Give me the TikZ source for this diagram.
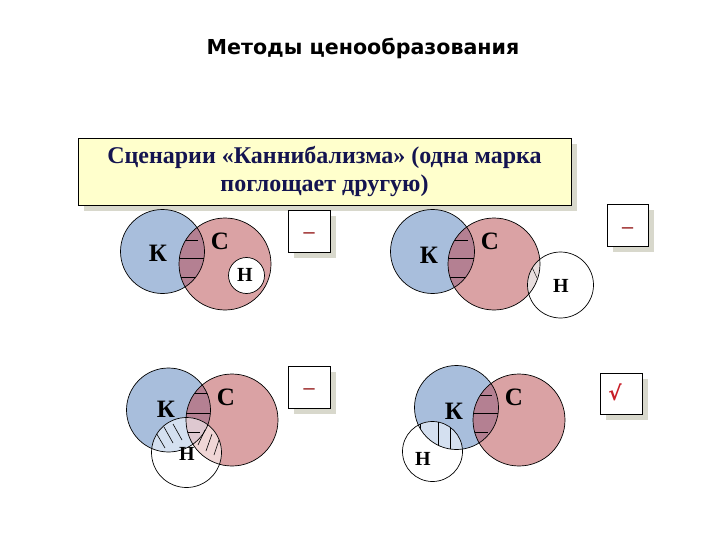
\documentclass[tikz,border=0pt]{standalone}
\usepackage{fontspec}
\setmainfont{Liberation Serif}
\newfontfamily\titlefont{DejaVu Sans}
\newfontfamily\symfont{DejaVu Sans}
\definecolor{kblue}{RGB}{168,190,220}
\definecolor{cpink}{RGB}{218,162,164}
\definecolor{kc}{RGB}{180,128,146}
\definecolor{hk}{RGB}{212,224,240}
\definecolor{hc}{RGB}{240,214,214}
\definecolor{hkc}{RGB}{222,200,208}
\definecolor{hlight}{RGB}{232,222,222}
\definecolor{navy}{RGB}{20,20,80}
\definecolor{boxyellow}{RGB}{255,255,204}
\definecolor{shadowc}{RGB}{216,216,204}
\definecolor{markred}{RGB}{200,30,40}
\definecolor{dashred}{RGB}{160,50,50}
\begin{document}
\begin{tikzpicture}[x=1pt,y=-1pt,line width=0.7pt,
  lbl/.style={font=\bfseries\fontsize{25}{27}\selectfont},
  hlbl/.style={font=\bfseries\fontsize{20}{22}\selectfont},
  hatch/.style={line width=0.6pt},
  dashtxt/.style={text=dashred,font=\bfseries\fontsize{22}{22}\selectfont},
  markbox/.style={draw,fill=white,line width=0.6pt,minimum width=42pt,minimum height=42pt,inner sep=0pt}]
\useasboundingbox (0,0) rectangle (720,540);
\fill[white] (0,0) rectangle (720,540);

% title
\node[font=\titlefont\bfseries\fontsize{20.6}{24}\selectfont] (title) at (363,48) {Методы ценообразования};

% heading box
\fill[shadowc] (84,144) rectangle (577,211);
\node[draw,fill=boxyellow,line width=0.8pt,minimum width=493pt,minimum height=67pt,inner sep=0pt,
  align=center,text=navy,font=\bfseries\fontsize{24}{28}\selectfont] (head) at (324.5,172)
  {Сценарии «Каннибализма» (одна марка\\поглощает другую)};

% ===== Panel 1 =====
\fill[kblue] (162.5,251.5) circle (42pt);
\fill[cpink] (225,264) circle (46pt);
\begin{scope}
  \clip (162.5,251.5) circle (42pt);
  \clip (225,264) circle (46pt);
  \fill[kc] (150,200) rectangle (260,320);
  \draw[hatch] (175,240) -- (198,240);
  \draw[hatch] (175,258) -- (210,258);
  \draw[hatch] (175,277) -- (197,277);
\end{scope}
\fill[white] (246.5,275.5) circle (18pt);
\draw (162.5,251.5) circle (42pt);
\draw (225,264) circle (46pt);
\draw (246.5,275.5) circle (18pt);
\node[lbl] (k1) at (158,253) {К};
\node[lbl] (c1) at (220,241) {С};
\node[hlbl] (h1) at (245,275) {Н};
\fill[shadowc] (294,216) rectangle (336,258);
\node[markbox] (m1) at (309,231) {};
\node[dashtxt] (d1) at (309,236) {–};

% ===== Panel 2 =====
\fill[kblue] (432.5,251.5) circle (42pt);
\fill[cpink] (494,264) circle (46pt);
\begin{scope}
  \clip (432.5,251.5) circle (42pt);
  \clip (494,264) circle (46pt);
  \fill[kc] (420,200) rectangle (530,320);
  \draw[hatch] (445,240) -- (468,240);
  \draw[hatch] (445,258) -- (480,258);
  \draw[hatch] (445,277) -- (467,277);
\end{scope}
\fill[white] (560.5,285) circle (33pt);
\begin{scope}
  \clip (560.5,285) circle (33pt);
  \fill[hlight] (494,264) circle (46pt);
  \draw[hatch,line width=0.4pt] (531,265) -- (537,278);
\end{scope}
\draw (432.5,251.5) circle (42pt);
\draw (494,264) circle (46pt);
\draw (560.5,285) circle (33pt);
\node[lbl] (k2) at (429,255) {К};
\node[lbl] (c2) at (490,241) {С};
\node[hlbl] (h2) at (561,286) {Н};
\fill[shadowc] (613,210) rectangle (654,252);
\node[markbox,minimum width=41pt] (m2) at (627.5,225) {};
\node[dashtxt] (d2) at (627.5,231) {–};

% ===== Panel 3 =====
\fill[kblue] (168.5,410) circle (42pt);
\fill[cpink] (232,420) circle (46pt);
\begin{scope}
  \clip (168.5,410) circle (42pt);
  \clip (232,420) circle (46pt);
  \fill[kc] (150,360) rectangle (260,470);
\end{scope}
\fill[white] (186.5,452.5) circle (35pt);
\begin{scope}
  \clip (186.5,452.5) circle (35pt);
  \fill[hk] (168.5,410) circle (42pt);
  \fill[hc] (232,420) circle (46pt);
  \clip (168.5,410) circle (42pt);
  \fill[hkc] (232,420) circle (46pt);
\end{scope}
\begin{scope}
  \clip (168.5,410) circle (42pt);
  \clip (232,420) circle (46pt);
  \draw[hatch] (185,393) -- (208,393);
  \draw[hatch] (185,413) -- (215,413);
  \draw[hatch] (185,432) -- (200,432);
\end{scope}
\begin{scope}
  \clip (186.5,452.5) circle (35pt);
  \clip (168.5,410) circle (42pt);
  \draw[hatch] (155,431) -- (165,448);
  \draw[hatch] (164,427) -- (173,443);
  \draw[hatch] (173,424) -- (182,440);
\end{scope}
\begin{scope}
  \clip (186.5,452.5) circle (35pt);
  \clip (232,420) circle (46pt);
  \draw[hatch] (198,445) -- (205,430);
  \draw[hatch] (206,451) -- (212,434);
  \draw[hatch] (214,455) -- (219,440);
\end{scope}
\draw (168.5,410) circle (42pt);
\draw (232,420) circle (46pt);
\draw (186.5,452.5) circle (35pt);
\node[lbl] (k3) at (166,409) {К};
\node[lbl] (c3) at (226,397) {С};
\node[hlbl] (h3) at (187,454) {Н};
\fill[shadowc] (294,372) rectangle (336,414);
\node[markbox] (m3) at (309,387) {};
\node[dashtxt] (d3) at (309,392) {–};

% ===== Panel 4 =====
\fill[kblue] (456.5,407.5) circle (42pt);
\fill[cpink] (519,420) circle (46pt);
\begin{scope}
  \clip (456.5,407.5) circle (42pt);
  \clip (519,420) circle (46pt);
  \fill[kc] (440,360) rectangle (560,470);
  \draw[hatch] (470,395) -- (492,395);
  \draw[hatch] (470,413) -- (500,413);
  \draw[hatch] (470,432) -- (488,432);
\end{scope}
\fill[white] (432.5,451.5) circle (30pt);
\begin{scope}
  \clip (432.5,451.5) circle (30pt);
  \clip (456.5,407.5) circle (42pt);
  \fill[hk] (400,410) rectangle (470,470);
  \foreach \xx in {420,438,450} \draw[hatch] (\xx,415) -- (\xx,470);
\end{scope}
\draw (456.5,407.5) circle (42pt);
\draw (519,420) circle (46pt);
\draw (432.5,451.5) circle (30pt);
\node[lbl] (k4) at (454,411) {К};
\node[lbl] (c4) at (514,397) {С};
\node[hlbl] (h4) at (423,459) {Н};
\fill[shadowc] (606,379) rectangle (648,420);
\node[markbox,minimum height=41pt] (m4) at (621,393.5) {};
\node[text=markred,font=\symfont\bfseries\fontsize{20}{20}\selectfont] (v4) at (615,392) {√};
\end{tikzpicture}
\end{document}
